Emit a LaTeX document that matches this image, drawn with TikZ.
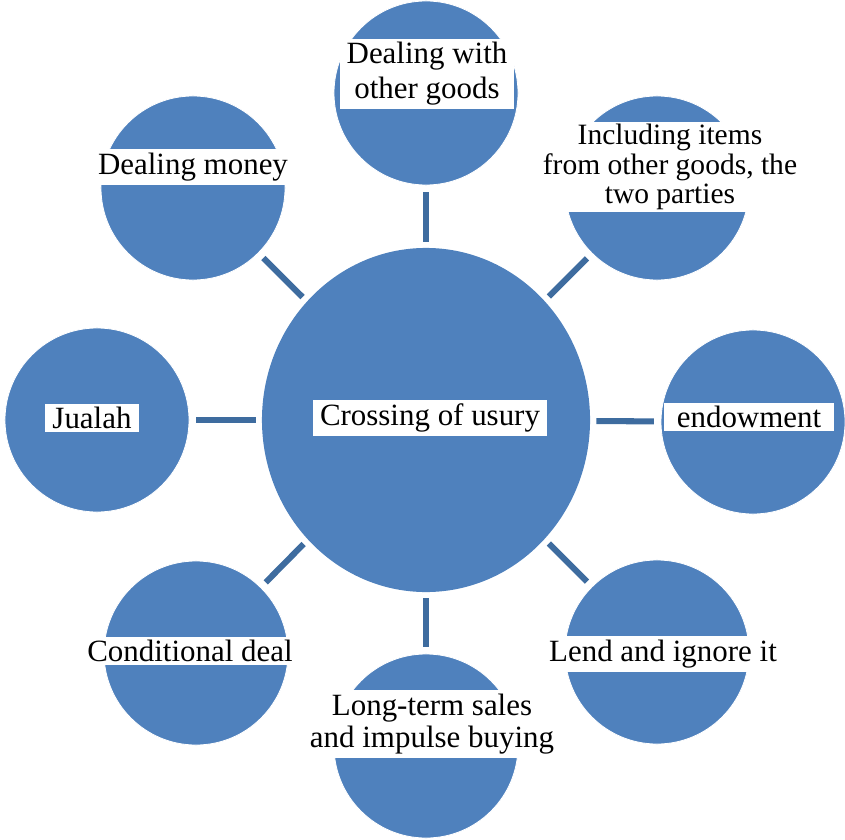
\documentclass[tikz,border=0pt]{standalone}
\usepackage{fontspec}
\setmainfont{Liberation Serif}
\newfontfamily\usufont{Liberation Serif}
\usetikzlibrary{shapes.geometric}
\definecolor{usublue}{HTML}{4F81BD}
\definecolor{usuline}{HTML}{3E6C9F}
\tikzset{bulle/.style = {circle, fill = usublue, draw = white, line width = 0.6pt,
                         minimum size = #1, inner sep = 0pt},
         bulle/.default = 4.6cm,
         etiq/.style = {fill = white, inner xsep = 5pt, inner ysep = 2.5pt,
                        font = \usufont\fontsize{22}{25}\selectfont, align = center},
         lien/.style = {usuline, line width = 4.3pt,
                        shorten <= 0.17cm, shorten >= 0.15cm}
        }

\begin{document}
\begin{tikzpicture}[x=0.025cm, y=-0.025cm]
\useasboundingbox (0,0) rectangle (845,839);
% centre
\node[ellipse, fill = usublue, minimum width = 8.2cm, minimum height = 8.6cm,
      inner sep = 0pt] at (426,420) (c) {};
% satellites
\node[bulle] at (426,93) (dother) {};
\node[bulle] at (657,188) (incl) {};
\node[bulle] at (753,422) (endow) {};
\node[bulle] at (657,652) (lend) {};
\node[bulle] at (426,746) (longt) {};
\node[bulle] at (196,653) (cond) {};
\node[bulle] at (97,420) (jualah) {};
\node[bulle] at (193,188) (dmoney) {};
% liens
\foreach \s in {dother,incl,endow,lend,longt,cond,jualah,dmoney}
  \draw[lien] (\s) -- (c);
% textes
\node[etiq] at (430,418) (tc) {Crossing of usury};
\node[etiq, font = \usufont\fontsize{22}{25}\selectfont] at (427,74) (tdother) {Dealing with\\other goods};
\node[etiq, font = \usufont\fontsize{21}{21}\selectfont, inner ysep = 1.5pt] at (670,167) (tincl) {Including items\\from other goods, the\\two parties};
\node[etiq, inner xsep = 9pt] at (749,417) (tendow) {endowment};
\node[etiq] at (663,654) (tlend) {Lend and ignore it};
\node[etiq, font = \usufont\fontsize{22}{23}\selectfont] at (432,724) (tlongt) {Long-term sales\\and impulse buying};
\node[etiq] at (190,651) (tcond) {Conditional deal};
\node[etiq] at (92,418) (tjualah) {Jualah};
\node[etiq] at (193,167) (tdmoney) {Dealing money};
\end{tikzpicture}
\end{document}
